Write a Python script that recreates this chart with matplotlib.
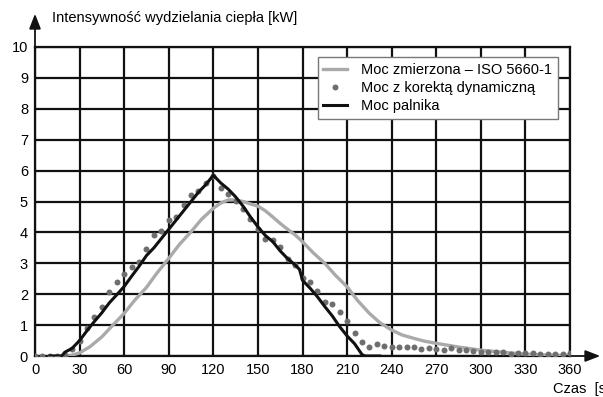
import numpy as np
import matplotlib.pyplot as plt

plt.rcParams['font.family'] = ['Liberation Sans', 'DejaVu Sans']

# Moc zmierzona - ISO 5660-1 (szara linia)
t_zm = [20, 25, 30, 37, 45, 52, 60, 67, 75, 82, 90, 97, 105, 112, 120, 125, 130, 135, 140, 145, 150, 155,
        160, 165, 170, 175, 180, 187, 195, 202, 210, 217, 225, 232, 240, 247, 255, 262, 270, 285, 300,
        315, 330, 345, 360]
q_zm = [0.0, 0.03, 0.1, 0.3, 0.62, 0.98, 1.38, 1.8, 2.22, 2.68, 3.16, 3.6, 4.02, 4.42, 4.78, 4.95, 5.05,
        5.05, 5.0, 4.92, 4.85, 4.7, 4.5, 4.29, 4.1, 3.92, 3.7, 3.35, 3.0, 2.62, 2.24, 1.8, 1.38, 1.08,
        0.84, 0.68, 0.57, 0.48, 0.41, 0.29, 0.19, 0.12, 0.06, 0.03, 0.02]

# Moc z korekta dynamiczna (kropki co 5 s)
t_kd = list(range(0, 365, 5))
q_kd = [0.0, 0.0, 0.0, 0.0, 0.03, 0.23, 0.49, 0.9, 1.25, 1.6, 2.06, 2.38, 2.64, 2.87, 3.05, 3.46, 3.9,
        4.03, 4.4, 4.5, 4.88, 5.22, 5.34, 5.61, 5.83, 5.45, 5.23, 5.03, 4.75, 4.42, 4.1, 3.8, 3.75, 3.52,
        3.14, 2.93, 2.53, 2.38, 2.11, 1.76, 1.68, 1.43, 1.14, 0.75, 0.46, 0.3, 0.39, 0.33, 0.3, 0.3,
        0.3, 0.3, 0.22, 0.27, 0.23, 0.2, 0.25, 0.19, 0.18, 0.17, 0.14, 0.14, 0.13, 0.12, 0.05, 0.09,
        0.1, 0.09, 0.08, 0.07, 0.06, 0.08, 0.09]

# Moc palnika (czarna linia)
t_pal = [10, 15, 18, 20, 25, 30, 35, 40, 45, 50, 55, 60, 65, 70, 75, 80, 85, 90, 95, 100, 105, 110, 115,
         120, 125, 130, 135, 140, 145, 150, 155, 160, 165, 170, 175, 178, 180, 185, 190, 195, 200, 205,
         210, 215, 220, 222, 232]
q_pal = [0.0, 0.0, 0.0, 0.12, 0.25, 0.5, 0.82, 1.12, 1.4, 1.72, 1.98, 2.25, 2.58, 2.9, 3.25, 3.5, 3.8,
         4.1, 4.4, 4.7, 5.0, 5.3, 5.55, 5.85, 5.6, 5.4, 5.15, 4.85, 4.5, 4.18, 3.9, 3.7, 3.4, 3.15, 2.95,
         2.8, 2.45, 2.2, 1.92, 1.6, 1.3, 0.95, 0.65, 0.4, 0.05, 0.0, 0.0]

xticks = np.arange(0, 361, 30)
yticks = np.arange(0, 11, 1)

fig = plt.figure(figsize=(6.03, 3.97), dpi=100)
ax = fig.add_axes([35/603, 41/397, 535/603, 309/397])

ax.plot(t_zm, q_zm, color='#aaaaaa', lw=2.4, label='Moc zmierzona \u2013 ISO 5660-1', zorder=3)
ax.plot(t_kd, q_kd, 'o', color='#6e6e6e', ms=4.3, mew=0, label='Moc z korektą dynamiczną', zorder=4)
ax.plot(t_pal, q_pal, color='#111111', lw=2.2, label='Moc palnika', zorder=5)

ax.set_xlim(0, 360)
ax.set_ylim(0, 10)
ax.set_xticks(xticks)
ax.set_yticks(yticks)
ax.tick_params(length=0, labelsize=10.5, pad=5)
ax.grid(True, color='#111111', lw=1.6)
ax.set_axisbelow(True)
for s in ax.spines.values():
    s.set_color('#111111')
    s.set_linewidth(1.6)

# strzalki osi
ax.annotate('', xy=(603/603, 41/397), xytext=(560/603, 41/397), xycoords='figure fraction',
            arrowprops=dict(arrowstyle='-|>,head_length=0.9,head_width=0.35', color='#111111', lw=1.3))
ax.annotate('', xy=(35/603, 386/397), xytext=(35/603, 340/397), xycoords='figure fraction',
            arrowprops=dict(arrowstyle='-|>,head_length=0.9,head_width=0.35', color='#111111', lw=1.3))

fig.text(52/603, 1 - 18/397, 'Intensywność wydzielania ciepła [kW]', fontsize=10.5, va='center')
# podpis osi X jest w oryginale przyciety przy prawej krawedzi
fig.text(553/603, 1 - 389/397, 'Czas  [s]', fontsize=10.5, va='center')

leg = ax.legend(loc='upper right', bbox_to_anchor=(0.978, 0.968), borderaxespad=0, fontsize=10.5,
                frameon=True, fancybox=False, framealpha=1, edgecolor='#777777',
                handlelength=1.6, labelspacing=0.3, borderpad=0.4, handletextpad=1.0)
leg.get_frame().set_linewidth(1.0)

fig.savefig('out.png', dpi=100)
